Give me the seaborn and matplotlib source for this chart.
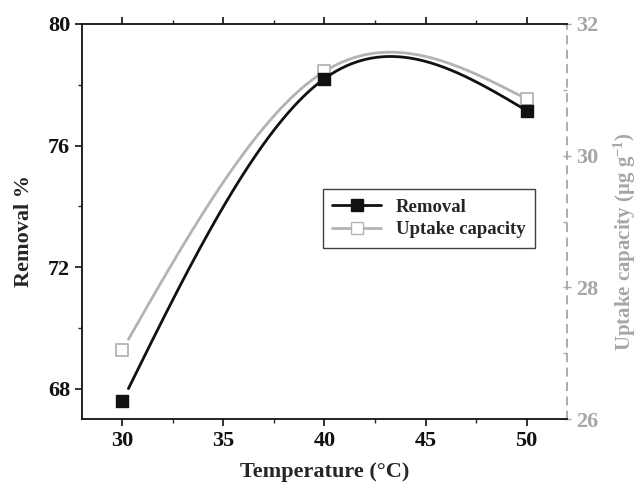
import numpy as np
import pandas as pd
import matplotlib
matplotlib.use("Agg")
import matplotlib.pyplot as plt
from matplotlib.lines import Line2D
from matplotlib.ticker import MultipleLocator
import seaborn as sns

temperature = [30, 40, 50]
removal = [67.6, 78.2, 77.15]
uptake = [27.05, 31.28, 30.86]

x_ticks = [30, 35, 40, 45, 50]
left_ticks = [68, 72, 76, 80]
right_ticks = [26, 28, 30, 32]

sns.set_theme(style="white")
plt.rcParams['font.family'] = ['Liberation Serif', 'DejaVu Serif']
plt.rcParams['font.weight'] = 'bold'
plt.rcParams['mathtext.fontset'] = 'custom'
plt.rcParams['mathtext.rm'] = 'Liberation Serif:bold'
plt.rcParams['mathtext.bf'] = 'Liberation Serif:bold'
plt.rcParams['mathtext.it'] = 'Liberation Serif:bold:italic'

BLACK = "#111111"
GRAY = "#b3b3b3"
GRAY_TXT = "#a6a6a6"


def natural_spline(x, y, xs):
    x = np.asarray(x, float)
    y = np.asarray(y, float)
    n = len(x)
    h = np.diff(x)
    A = np.zeros((n, n))
    b = np.zeros(n)
    A[0, 0] = 1
    A[-1, -1] = 1
    for i in range(1, n - 1):
        A[i, i - 1] = h[i - 1] / 6
        A[i, i] = (h[i - 1] + h[i]) / 3
        A[i, i + 1] = h[i] / 6
        b[i] = (y[i + 1] - y[i]) / h[i] - (y[i] - y[i - 1]) / h[i - 1]
    M = np.linalg.solve(A, b)
    out = np.empty_like(xs)
    for k, xv in enumerate(xs):
        i = min(max(np.searchsorted(x, xv) - 1, 0), n - 2)
        hi = h[i]
        a = x[i + 1] - xv
        c = xv - x[i]
        out[k] = (M[i] * a ** 3 / (6 * hi) + M[i + 1] * c ** 3 / (6 * hi)
                  + (y[i] - M[i] * hi ** 2 / 6) * a / hi
                  + (y[i + 1] - M[i + 1] * hi ** 2 / 6) * c / hi)
    return out


fig = plt.figure(figsize=(6.4, 4.88), dpi=100)
ax = fig.add_axes([0.128, 0.141, 0.758, 0.810])
ax2 = ax.twinx()

xs = np.linspace(30.3, 49.8, 300)
curve_r = pd.DataFrame({"x": xs, "y": natural_spline(temperature, removal, xs)})
curve_u = pd.DataFrame({"x": xs, "y": natural_spline(temperature, uptake, xs)})
pts_r = pd.DataFrame({"x": temperature, "y": removal})
pts_u = pd.DataFrame({"x": temperature, "y": uptake})

sns.lineplot(data=curve_u, x="x", y="y", ax=ax2, color=GRAY, lw=2.0, zorder=2)
sns.scatterplot(data=pts_u, x="x", y="y", ax=ax2, marker="s", s=85,
                facecolor="white", edgecolor=GRAY, linewidth=1.3, zorder=3)
sns.lineplot(data=curve_r, x="x", y="y", ax=ax, color=BLACK, lw=2.0, zorder=2)
sns.scatterplot(data=pts_r, x="x", y="y", ax=ax, marker="s", s=85,
                color=BLACK, edgecolor=BLACK, linewidth=1, zorder=3)

ax.set_zorder(ax2.get_zorder() + 1)
ax.patch.set_visible(False)

ax.set_xlim(28, 52)
ax.set_ylim(67, 80)
ax2.set_ylim(26, 32)
ax.set_xticks(x_ticks)
ax.set_yticks(left_ticks)
ax2.set_yticks(right_ticks)
ax.xaxis.set_minor_locator(MultipleLocator(2.5))
ax.yaxis.set_minor_locator(MultipleLocator(2))
ax2.yaxis.set_minor_locator(MultipleLocator(1))

ax.set_xlabel("Temperature (°C)", fontsize=16, fontweight='bold', labelpad=8)
ax.set_ylabel("Removal %", fontsize=16, fontweight='bold')
ax.yaxis.set_label_coords(-0.099, 0.475)
ax2.set_ylabel("Uptake capacity (μg g$^{-1}$)", fontsize=15,
               fontweight='bold', color=GRAY_TXT)
ax2.yaxis.set_label_coords(1.092, 0.45)

for a in (ax, ax2):
    for s in a.spines.values():
        s.set_linewidth(1.3)
        s.set_color(BLACK)
ax.spines['right'].set_visible(False)
ax2.spines['left'].set_visible(False)
ax2.spines['top'].set_visible(False)
ax2.spines['bottom'].set_visible(False)
ax2.spines['right'].set_color(GRAY_TXT)
ax2.spines['right'].set_linestyle((0, (4, 4)))

ax.tick_params(axis='both', which='major', direction='out', length=5, width=1.2,
               labelsize=16, colors=BLACK, bottom=True, left=True, top=True)
ax.tick_params(axis='both', which='minor', direction='out', length=3, width=1.0,
               bottom=True, left=True, top=True)
ax.tick_params(axis='x', which='both', top=True, direction='out', labeltop=False)
for lab in ax.get_xticklabels() + ax.get_yticklabels():
    lab.set_fontweight('bold')
ax2.tick_params(axis='y', which='major', direction='inout', length=6, width=1.0,
                labelsize=16, colors=GRAY_TXT, right=True)
ax2.tick_params(axis='y', which='minor', direction='in', length=3, width=1.0,
                colors=GRAY_TXT, right=True)
for lab in ax2.get_yticklabels():
    lab.set_fontweight('bold')

handles = [
    Line2D([], [], color=BLACK, lw=2, marker='s', markersize=8,
           markerfacecolor=BLACK, markeredgecolor=BLACK),
    Line2D([], [], color=GRAY, lw=2, marker='s', markersize=8,
           markerfacecolor='white', markeredgecolor=GRAY),
]
leg = ax.legend(handles, ["Removal", "Uptake capacity"],
                loc='upper left', bbox_to_anchor=(0.497, 0.582),
                borderaxespad=0, frameon=True, fancybox=False, edgecolor=BLACK,
                prop={'weight': 'bold', 'size': 13.5}, handlelength=2.6,
                borderpad=0.5, labelspacing=0.3)
leg.get_frame().set_linewidth(1.0)

fig.savefig("out.png", dpi=100)
